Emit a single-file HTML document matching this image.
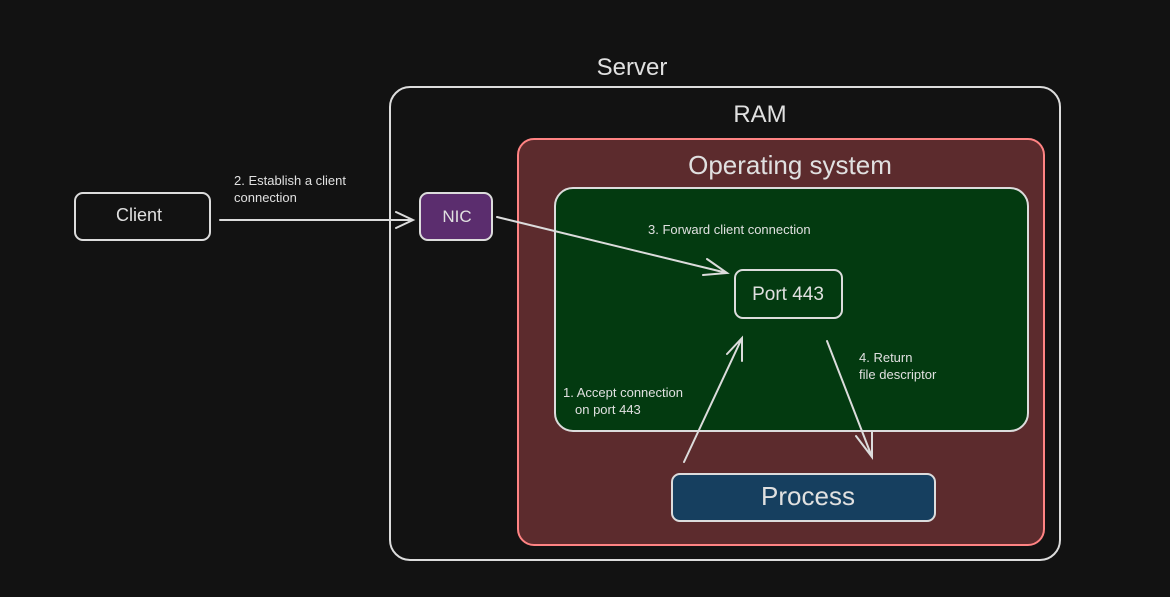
<!DOCTYPE html>
<html><head><meta charset="utf-8"><style>
html,body{margin:0;padding:0;background:#121212;}
svg{display:block;}
text{font-family:"Liberation Sans",sans-serif;fill:#e0e0e0;}
</style></head><body>
<svg width="1170" height="597" viewBox="0 0 1170 597" xmlns="http://www.w3.org/2000/svg">
<rect width="1170" height="597" fill="#121212"/>
<text x="632" y="75" font-size="24" text-anchor="middle">Server</text>
<rect x="390" y="87" width="670" height="473" rx="20" fill="none" stroke="#dcdcdc" stroke-width="2"/>
<text x="760" y="122" font-size="24" text-anchor="middle">RAM</text>
<rect x="518" y="139" width="526" height="406" rx="16" fill="#5c2b2d" stroke="#ff8383" stroke-width="2"/>
<text x="790" y="174" font-size="26" text-anchor="middle">Operating system</text>
<rect x="555" y="188" width="473" height="243" rx="18" fill="#033a10" stroke="#dcdcdc" stroke-width="2"/>
<rect x="75" y="193" width="135" height="47" rx="8" fill="none" stroke="#dcdcdc" stroke-width="2"/>
<text x="139" y="221" font-size="18" text-anchor="middle">Client</text>
<rect x="420" y="193" width="72" height="47" rx="8" fill="#5b2d6e" stroke="#dcdcdc" stroke-width="2"/>
<text x="457" y="222" font-size="17" text-anchor="middle">NIC</text>
<rect x="735" y="270" width="107" height="48" rx="8" fill="none" stroke="#dcdcdc" stroke-width="2"/>
<text x="788" y="300" font-size="19" text-anchor="middle">Port 443</text>
<rect x="672" y="474" width="263" height="47" rx="8" fill="#163f5f" stroke="#dcdcdc" stroke-width="2"/>
<text x="808" y="505" font-size="26" text-anchor="middle">Process</text>
<g stroke="#dcdcdc" stroke-width="2" fill="none" stroke-linecap="round">
<path d="M220 220 L413 220 M396 212 L413 220 L396 228"/>
<path d="M497 217 L727 273 M707 259 L727 273 L703 275"/>
<path d="M684 462 L742 338 M727 354 L742 338 L742 361"/>
<path d="M827 341 L872 457 M856 436 L872 457 L872 432"/>
</g>
<g font-size="13">
<text x="234" y="185">2. Establish a client</text>
<text x="234" y="202">connection</text>
<text x="648" y="234">3. Forward client connection</text>
<text x="563" y="397">1. Accept connection</text>
<text x="575" y="414">on port 443</text>
<text x="859" y="362">4. Return</text>
<text x="859" y="379">file descriptor</text>
</g>
</svg>
</body></html>
